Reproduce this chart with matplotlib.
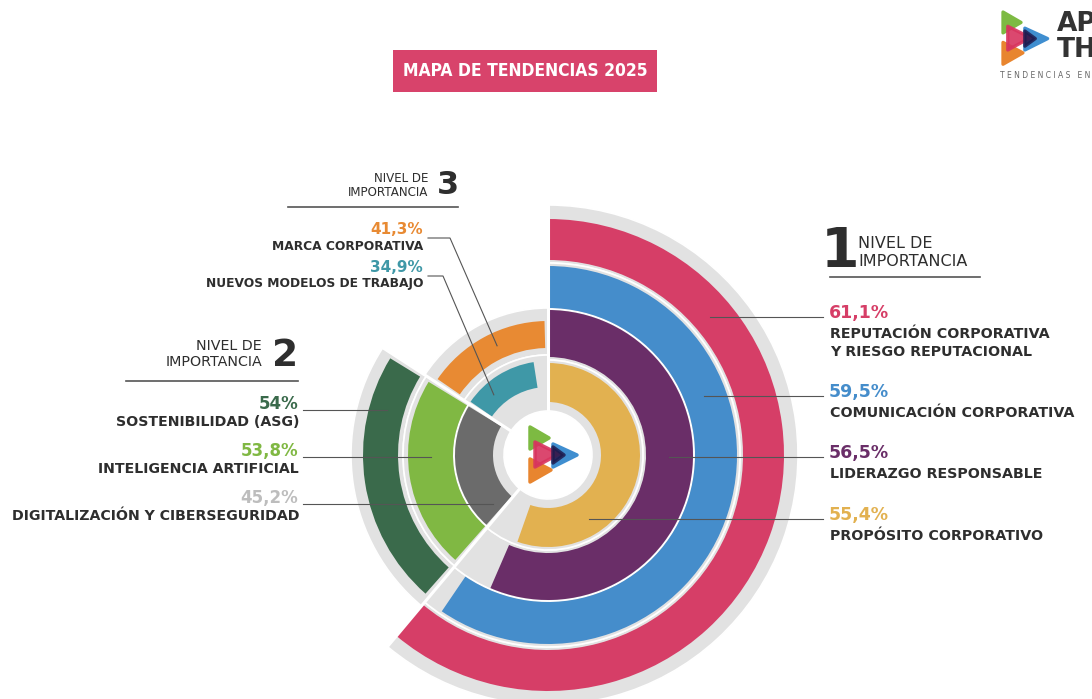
import numpy as np
import matplotlib
matplotlib.use("Agg")
import matplotlib.pyplot as plt
from matplotlib.patches import Wedge, Circle, Rectangle, Polygon

# nivel 1
labels1 = ["REPUTACIÓN CORPORATIVA\nY RIESGO REPUTACIONAL", "COMUNICACIÓN CORPORATIVA",
           "LIDERAZGO RESPONSABLE", "PROPÓSITO CORPORATIVO"]
values1 = [61.1, 59.5, 56.5, 55.4]
colors1 = ["#D63E67", "#458DCB", "#6A2E68", "#E2B150"]

# nivel 2
labels2 = ["SOSTENIBILIDAD (ASG)", "INTELIGENCIA ARTIFICIAL", "DIGITALIZACIÓN Y CIBERSEGURIDAD"]
values2 = [54, 53.8, 45.2]
colors2 = ["#3A6A4B", "#80B843", "#6B6B6B"]
pct_colors2 = ["#3A6A4B", "#80B843", "#BDBDBD"]

# nivel 3
labels3 = ["MARCA CORPORATIVA", "NUEVOS MODELOS DE TRABAJO"]
values3 = [41.3, 34.9]
colors3 = ["#E88A33", "#3F98A7"]

cx, cy = 548, 455
GRAY = "#E2E2E2"
DARK = "#2E2E2E"
FONT = "DejaVu Sans"


def fmt(v):
    return f"{v:g}".replace(".", ",") + "%"


def wedge(ax, r, c1, c2, width, color, **kw):
    # angles measured clockwise from the top, y axis points down
    w = Wedge((cx, cy), r, c1 - 90, c2 - 90, width=width, facecolor=color, **kw)
    ax.add_patch(w)


def point(r, c):
    a = np.radians(c)
    return cx + r * np.sin(a), cy - r * np.cos(a)


fig = plt.figure(figsize=(10.92, 6.99), dpi=100)
ax = fig.add_axes([0, 0, 1, 1])
ax.set_xlim(0, 1092)
ax.set_ylim(699, 0)
ax.axis("off")

# sector limits (clockwise from top)
s1_end = values1[0] * 3.6
s2_end = 303
s3_end = 360

# ring radii (outer, width)
rings1 = [(236, 41), (189, 42), (145, 47), (92, 39)]
rings2 = [(185, 35), (140, 45), (93, 38)]
rings3 = [(134, 27), (94, 26)]

# gray tracks
tracks1 = [250, 192, 146, 95]
tracks2 = [197, 145, 94]
tracks3 = [147, 100]
for tracks, a1, a2 in [(tracks1, 0, s1_end), (tracks2, s1_end, s2_end), (tracks3, s2_end, s3_end)]:
    for i, r in enumerate(tracks):
        r_in = tracks[i + 1] if i + 1 < len(tracks) else 44
        wedge(ax, r, a1, a2, r - r_in, GRAY, edgecolor="white", linewidth=1.2)

# sector 1: angle proportional to value
for (ro, w), v, col in zip(rings1, values1, colors1):
    wedge(ax, ro, 0, v * 3.6, w, col, edgecolor="none")

# sector 2: bars fill the sector
pad = 1.5
for (ro, w), v, col in zip(rings2, values2, colors2):
    wedge(ax, ro, s1_end + pad, s2_end - pad, w, col, edgecolor="none")

# sector 3: scaled to the largest value
span3 = s3_end - s2_end
for (ro, w), v, col in zip(rings3, values3, colors3):
    wedge(ax, ro, s2_end + pad, s2_end + span3 * v / max(values3) - (pad if v == max(values3) else 0),
          w, col, edgecolor="none")

# white separators between sectors
for c in [0, s1_end, s2_end]:
    x1, y1 = point(44, c)
    x2, y2 = point(252, c)
    ax.plot([x1, x2], [y1, y2], color="white", lw=2.2, solid_capstyle="butt")

ax.add_patch(Circle((cx, cy), 44, facecolor="white", edgecolor="none"))


def logo(ax, x0, y0, s):
    def tri(pts, col, alpha=1.0):
        p = [(x0 + s * px, y0 + s * py) for px, py in pts]
        ax.add_patch(Polygon(p, closed=True, facecolor=col, edgecolor=col, alpha=alpha,
                             linewidth=2.5 * s, joinstyle="round"))
    tri([(0, 0), (0, 22), (19, 11)], "#7DBA42")
    tri([(0, 32), (0, 55), (21, 43)], "#E8852F")
    tri([(23, 17), (23, 40), (47, 28)], "#3F8ED0")
    tri([(5, 15), (5, 40), (29, 27)], "#D8345F", 0.9)
    tri([(23, 20), (23, 36), (34, 28)], "#1E1B4F", 0.85)


logo(ax, 530, 427, 1.0)
logo(ax, 1003, 12, 0.95)

# top right brand (cut by the right edge, as in the source)
ax.text(1057, 24, "AP", fontsize=19, fontweight="bold", color="#333333", family=FONT, va="center", ha="left")
ax.text(1057, 50, "THE", fontsize=19, fontweight="bold", color="#333333", family=FONT, va="center", ha="left")
ax.text(1000, 76, "T E N D E N C I A S   E N   R", fontsize=5.5, color="#666666", family=FONT, va="center", ha="left")

# title box
ax.add_patch(Rectangle((393, 50), 264, 42, facecolor="#D8436B", edgecolor="none"))
ax.text(525, 71, "MAPA DE TENDENCIAS 2025", fontsize=12.5, fontweight="bold", color="white",
        family=FONT, fontstretch="condensed", ha="center", va="center")

LINE = "#555555"

# header nivel 1
ax.text(840, 252, "1", fontsize=40, fontweight="heavy", color=DARK, family=FONT, ha="center", va="center")
ax.text(858, 243, "NIVEL DE", fontsize=11.5, color=DARK, family=FONT, ha="left", va="center")
ax.text(858, 261, "IMPORTANCIA", fontsize=11.5, color=DARK, family=FONT, ha="left", va="center")
ax.plot([830, 980], [277, 277], color=LINE, lw=1.2)

# labels nivel 1
ys1 = [313, 392, 453, 515]
for (ro, w), v, lab, col, y in zip(rings1, values1, labels1, colors1, ys1):
    rm = ro - w / 2
    x0 = cx + np.sqrt(rm ** 2 - (y - cy) ** 2)
    ax.plot([x0, 823], [y + 4, y + 4], color=LINE, lw=0.8)
    ax.text(829, y, fmt(v), fontsize=12.5, fontweight="bold", color=col, family=FONT, ha="left", va="center")
    for k, line in enumerate(lab.split("\n")):
        ax.text(830, y + 21 + 18 * k, line, fontsize=10.3, fontweight="bold", color=DARK, family=FONT,
                ha="left", va="center")

# header nivel 2
ax.text(298, 356, "2", fontsize=27, fontweight="heavy", color=DARK, family=FONT, ha="right", va="center")
ax.text(262, 346, "NIVEL DE", fontsize=10.3, color=DARK, family=FONT, ha="right", va="center")
ax.text(262, 362, "IMPORTANCIA", fontsize=10.3, color=DARK, family=FONT, ha="right", va="center")
ax.plot([126, 298], [381, 381], color=LINE, lw=1.2)

ys2 = [404, 451, 498]
for (ro, w), v, lab, col, y in zip(rings2, values2, labels2, pct_colors2, ys2):
    rm = ro - w / 2
    yl = y + 6
    x0 = cx - np.sqrt(rm ** 2 - (yl - cy) ** 2)
    ax.plot([303, x0], [yl, yl], color=LINE, lw=0.8)
    ax.text(298, y, fmt(v), fontsize=12, fontweight="bold", color=col, family=FONT, ha="right", va="center")
    ax.text(299, y + 18, lab, fontsize=10.2, fontweight="bold", color=DARK, family=FONT, ha="right", va="center")

# header nivel 3
ax.text(459, 185, "3", fontsize=23, fontweight="heavy", color=DARK, family=FONT, ha="right", va="center")
ax.text(428, 178, "NIVEL DE", fontsize=8.6, color=DARK, family=FONT, ha="right", va="center")
ax.text(428, 192, "IMPORTANCIA", fontsize=8.6, color=DARK, family=FONT, ha="right", va="center")
ax.plot([288, 458], [207, 207], color=LINE, lw=1.2)

ys3 = [230, 268]
knee3 = [450, 443]
ends3 = [335, 318]
for (ro, w), v, lab, col, y, kx, ang in zip(rings3, values3, labels3, colors3, ys3, knee3, ends3):
    rm = ro - w / 2
    ex, ey = point(rm, ang)
    yl = y + 8
    ax.plot([428, kx, ex], [yl, yl, ey], color=LINE, lw=0.8)
    ax.text(423, y, fmt(v), fontsize=11, fontweight="bold", color=col, family=FONT, ha="right", va="center")
    ax.text(423, y + 16, lab, fontsize=8.8, fontweight="bold", color=DARK, family=FONT, ha="right", va="center")

fig.savefig("out.png", dpi=100)
